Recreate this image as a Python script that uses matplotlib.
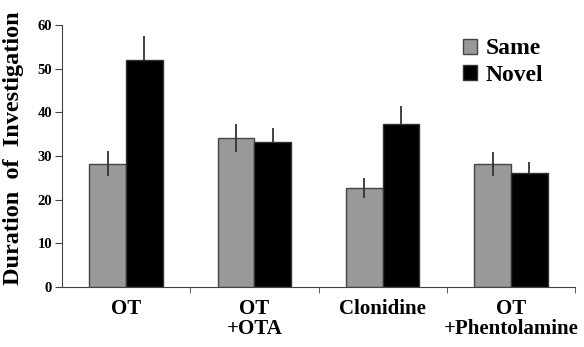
import numpy as np
import matplotlib
matplotlib.use("Agg")
import matplotlib.pyplot as plt

groups = ["OT", "OT\n+OTA", "Clonidine", "OT\n+Phentolamine"]
same = [28.2, 34.1, 22.6, 28.2]
same_err = [2.9, 3.3, 2.3, 2.8]
novel = [52.0, 33.2, 37.4, 26.2]
novel_err = [5.5, 3.3, 4.0, 2.5]

plt.rcParams['font.family'] = ['Liberation Serif', 'DejaVu Serif']
plt.rcParams['font.weight'] = 'bold'

fig = plt.figure(figsize=(5.84, 3.47), dpi=100)
ax = fig.add_axes([0.106, 0.173, 0.879, 0.755])

x = np.arange(len(groups))
w = 0.285
ax.bar(x - w / 2, same, w, color='#999999', edgecolor='#444444', linewidth=1, label='Same', zorder=2)
ax.bar(x + w / 2, novel, w, color='black', edgecolor='#333333', linewidth=1, label='Novel', zorder=2)
ax.errorbar(x - w / 2, same, yerr=same_err, fmt='none', ecolor='#333333', elinewidth=1.3, capsize=0, zorder=3)
ax.errorbar(x + w / 2, novel, yerr=novel_err, fmt='none', ecolor='#333333', elinewidth=1.3, capsize=0, zorder=1)

ax.set_xlim(-0.5, len(groups) - 0.5)
ax.set_ylim(0, 60)
ax.set_yticks(range(0, 61, 10))
ax.set_xticks(x)
ax.set_xticklabels(groups, fontsize=15, fontweight='bold', linespacing=1.0)
ax.set_xticks(np.arange(0.5, len(groups)), minor=True)
ax.tick_params(axis='x', which='major', length=0, pad=9)
ax.tick_params(axis='x', which='minor', length=4, direction='out', color='#444444')
ax.tick_params(axis='y', labelsize=10.5, length=5, direction='out', color='#444444', pad=2)
for lab in ax.get_yticklabels():
    lab.set_fontweight('bold')

ax.spines['top'].set_visible(False)
ax.spines['right'].set_visible(False)
ax.spines['left'].set_color('#444444')
ax.spines['bottom'].set_color('#444444')

ax.set_ylabel('Duration  of  Investigation', fontsize=17.5, fontweight='bold', va='bottom')
ax.yaxis.set_label_coords(-0.073, 0.53)

ax.legend(loc='upper left', bbox_to_anchor=(0.74, 1.03), frameon=False,
          prop={'size': 17, 'weight': 'bold'}, handlelength=0.6, handleheight=0.6,
          handletextpad=0.35, labelspacing=0.25)

fig.savefig('out.png', dpi=100)
